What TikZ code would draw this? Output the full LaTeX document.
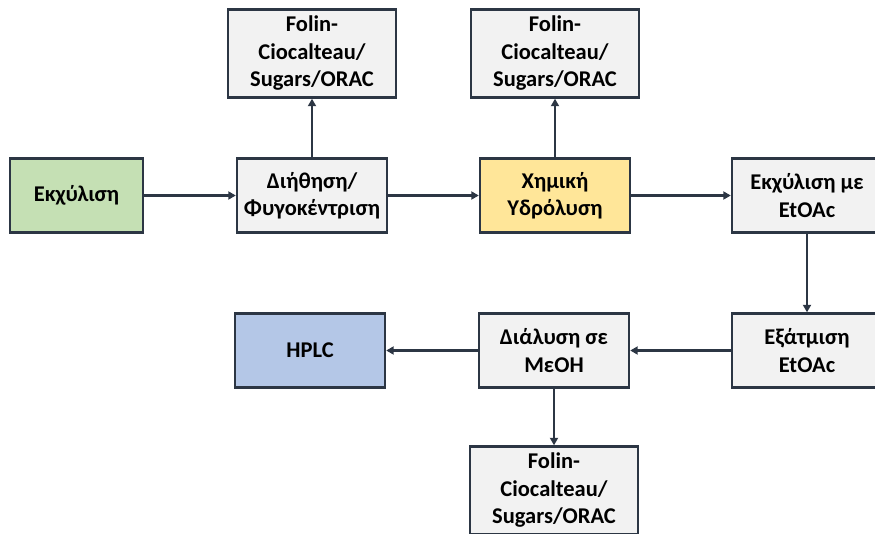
\documentclass[tikz,border=0pt]{standalone}
\usepackage{fontspec}
\setmainfont{Carlito}
\usepackage{xcolor}
\usepackage{tikz}
\usetikzlibrary{arrows.meta,positioning}
\definecolor{boxline}{RGB}{44,54,68}
\definecolor{boxgray}{RGB}{242,242,242}
\definecolor{boxgreen}{RGB}{197,224,180}
\definecolor{boxyellow}{RGB}{255,230,153}
\definecolor{boxblue}{RGB}{180,199,231}
\tikzset{
	>={Triangle[width=8pt,length=7.5pt]},
	% Specifications for style of nodes:
	base/.style = {rectangle,
	minimum width=150pt, minimum height=74pt,
	draw=boxline, fill=boxgray, line width=2.4pt,
	text centered, align=center, inner sep=0pt,
	font=\fontsize{22.5}{27.5}\selectfont\bfseries},
	step1/.style = {base, fill=boxgreen, minimum width=133pt},
	hydro/.style = {base, fill=boxyellow},
	final/.style = {base, fill=boxblue},
	assay/.style = {base, minimum width=168pt, minimum height=88pt},
	link/.style = {line width=2.5pt, draw=boxline, ->},
}

\begin{document}
\begin{tikzpicture}[x=1pt, y=1pt]
	\useasboundingbox (0,0) rectangle (875,-533);
	\begin{scope}
	\clip (0,0) rectangle (875,-533);
		% first row
		\node (ekx)[step1] at (76.5,-195.5) {Εκχύλιση};
		\node (dith)[base, right=91.6pt of ekx] {Διήθηση/\\Φυγοκέντριση};
		\node (xim)[hydro, right=90.6pt of dith] {Χημική\\Υδρόλυση};
		\node (etoac)[base, right=99.6pt of xim] {Εκχύλιση με\\EtOAc};
		% assays above
		\node (fol1)[assay, above=58.6pt of dith] {Folin-\\Ciocalteau/\\Sugars/ORAC};
		\node (fol2)[assay, above=58.6pt of xim] {Folin-\\Ciocalteau/\\Sugars/ORAC};
		% second row
		\node (exat)[base, below=78.6pt of etoac] {Εξάτμιση\\EtOAc};
		\node (dial)[base, left=100.6pt of exat] {Διάλυση σε\\MεOH};
		\node (hplc)[final, left=91.6pt of dial] {HPLC};
		\node (fol3)[assay, below=56.6pt of dial] {Folin-\\Ciocalteau/\\Sugars/ORAC};
		% draw arrows between nodes
		\draw[link](ekx) -- (dith);
		\draw[link](dith) -- (xim);
		\draw[link](xim) -- (etoac);
		\draw[link](dith) -- (fol1);
		\draw[link](xim) -- (fol2);
		\draw[link](etoac) -- (exat);
		\draw[link](exat) -- (dial);
		\draw[link](dial) -- (hplc);
		\draw[link](dial) -- (fol3);
	\end{scope}
\end{tikzpicture}
\end{document}
